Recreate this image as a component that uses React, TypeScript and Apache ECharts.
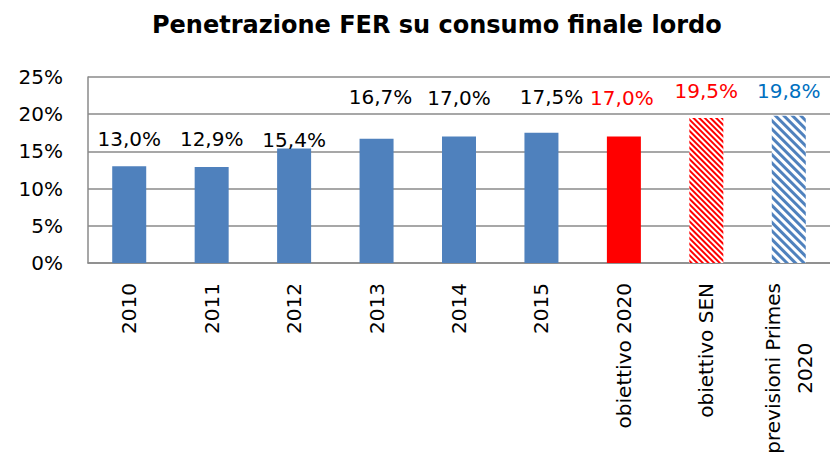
import React, { useEffect, useRef } from "react";
import * as echarts from "echarts";

const title = "Penetrazione FER su consumo finale lordo";
const categories = [
  "2010",
  "2011",
  "2012",
  "2013",
  "2014",
  "2015",
  "obiettivo 2020",
  "obiettivo SEN",
  "previsioni Primes\n2020",
];
const values = [13.0, 12.9, 15.4, 16.7, 17.0, 17.5, 17.0, 19.5, 19.8];
const yMin = 0;
const yMax = 25;
const yStep = 5;

const BLUE = "#4F81BD";
const RED = "#FF0000";
const FONT = "DejaVu Sans";

// label placement tweaks [dx, dy] (style only)
const labelOffsets: [number, number][] = [
  [0, -16],
  [0, -17],
  [0, 3],
  [4, -31],
  [0, -28],
  [10, -25],
  [-2, -28],
  [0, -16],
  [0, -14],
];

function itemStyleFor(i: number) {
  if (i === 6) return { color: RED };
  if (i === 7)
    return {
      color: "#ffffff",
      decal: {
        symbol: "rect",
        symbolSize: 1,
        dashArrayX: [1, 0],
        dashArrayY: [1.2, 1.8],
        rotation: Math.PI / 4,
        color: RED,
      },
    };
  if (i === 8)
    return {
      color: "#ffffff",
      decal: {
        symbol: "rect",
        symbolSize: 1,
        dashArrayX: [1, 0],
        dashArrayY: [2.8, 3],
        rotation: Math.PI / 4,
        color: BLUE,
      },
    };
  return { color: BLUE };
}

function labelColor(i: number) {
  if (i === 6 || i === 7) return RED;
  if (i === 8) return "#0070C0";
  return "#000000";
}

export default function App() {
  const ref = useRef<HTMLDivElement>(null);
  useEffect(() => {
    if (!ref.current) return;
    const chart = echarts.init(ref.current, null, { renderer: "svg" });
    chart.setOption({
      animation: false,
      backgroundColor: "#ffffff",
      title: {
        text: title,
        left: 147,
        top: 8,
        textStyle: {
          fontFamily: FONT,
          fontWeight: "bold",
          fontSize: 24,
          color: "#000",
        },
      },
      grid: { left: 88, top: 77, width: 756, height: 186, containLabel: false },
      xAxis: {
        type: "category",
        data: categories,
        axisLine: { show: true, lineStyle: { color: "#8a8a8a", width: 1.5 } },
        axisTick: { show: false },
        axisLabel: {
          interval: 0,
          rotate: 90,
          margin: 20,
          fontFamily: FONT,
          fontSize: 20,
          color: "#000",
          formatter: (v: string) => {
            if (v.indexOf("\n") >= 0) {
              const parts = v.split("\n");
              return `{a|${parts[0]}}\n{b|${parts[1]}}`;
            }
            return v;
          },
          rich: {
            a: { fontFamily: FONT, fontSize: 20, color: "#000", lineHeight: 32 },
            b: { fontFamily: FONT, fontSize: 20, color: "#000", lineHeight: 32, align: "center" },
          },
        },
      },
      yAxis: {
        type: "value",
        min: yMin,
        max: yMax,
        interval: yStep,
        axisLine: { show: true, lineStyle: { color: "#8a8a8a", width: 1.5 } },
        axisTick: { show: false },
        splitLine: { show: true, lineStyle: { color: "#8a8a8a", width: 1.5 } },
        axisLabel: {
          margin: 25,
          fontFamily: FONT,
          fontSize: 20,
          color: "#000",
          formatter: (v: number) => `${v}%`,
        },
      },
      series: [
        {
          type: "bar",
          barWidth: 34,
          data: values.map((v, i) => ({
            value: v,
            itemStyle: itemStyleFor(i),
            label: {
              show: true,
              position: "top",
              distance: 0,
              offset: labelOffsets[i],
              color: labelColor(i),
            },
          })),
          label: {
            show: true,
            position: "top",
            fontFamily: FONT,
            fontSize: 20,
            lineHeight: 22,
            formatter: (p: any) => `${Number(p.value).toFixed(1).replace(".", ",")}%`,
          },
        },
      ],
    });
    return () => chart.dispose();
  }, []);
  return (
    <div
      ref={ref}
      style={{ position: "fixed", left: 0, top: 0, width: 830, height: 465 }}
    />
  );
}
